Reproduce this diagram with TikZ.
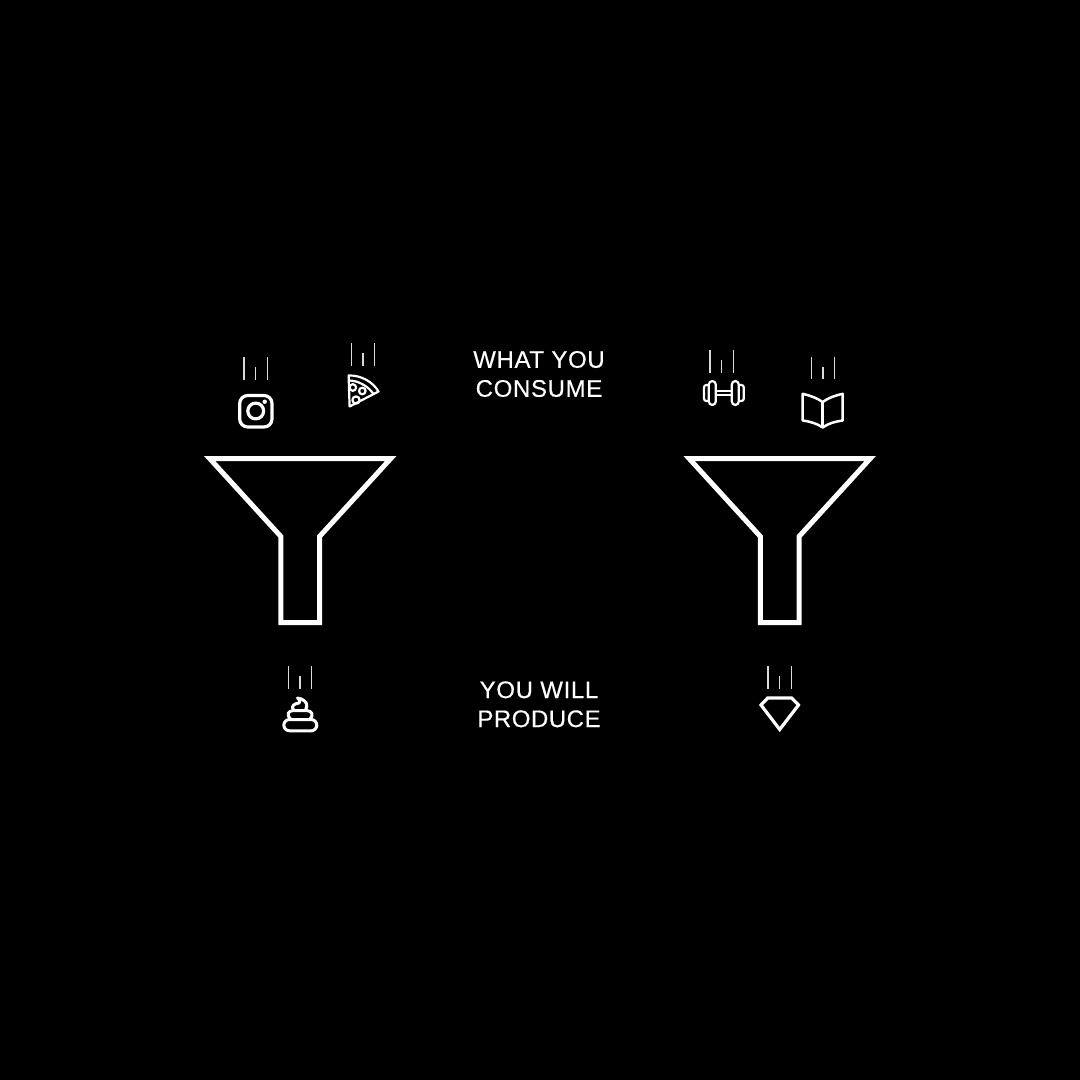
\documentclass[tikz,border=0pt]{standalone}
\usepackage{fontspec}
\setmainfont[LetterSpace=2.7,FakeBold=0.35]{Liberation Sans}
\begin{document}
\begin{tikzpicture}[x=1pt,y=-1pt,
  funnelline/.style={draw=white,line width=5pt,miter limit=10},
  iconline/.style={draw=white,line width=3pt,line join=round},
  thinicon/.style={draw=white,line width=2.2pt,line join=round},
  streak/.style={draw=white!85!black,line width=1.4pt},
  caption/.style={text=white,align=center,inner sep=0pt,font=\fontsize{24}{29}\selectfont}]
\fill[black] (0,0) rectangle (1080,1080);
\useasboundingbox (0,0) rectangle (1080,1080);
% funnels
\foreach \cx in {300.2,779.7}{
  \draw[funnelline] (\cx-90.4,458.7) -- (\cx+90.4,458.7) -- (\cx+19.3,536.5) -- (\cx+19.3,622.5) -- (\cx-19.3,622.5) -- (\cx-19.3,536.5) -- cycle;
}
% streaks
\foreach \x/\y in {255.6/357,363/343,721.6/350,823/356.7,300/666,779.6/666}{
  \draw[streak] (\x-11.7,\y) -- (\x-11.7,\y+22.7);
  \draw[streak] (\x,\y+10) -- (\x,\y+22.7);
  \draw[streak] (\x+11.7,\y) -- (\x+11.7,\y+22.7);
}
% instagram
\draw[iconline,line width=3.2pt,rounded corners=8pt] (239.7,395.5) rectangle (272,427);
\draw[iconline,line width=3.2pt] (255.7,411) circle (7.9);
\fill[white] (264.7,401.7) circle (2.2);
% pizza
\draw[thinicon] (349.6,406.5) -- (348.6,375.5) .. controls (361,375) and (373,382) .. (378.5,391.5) -- cycle;
\draw[thinicon] (349,380.5) .. controls (358,380.5) and (368,386) .. (373.5,394);
\draw[thinicon] (352.8,387.5) circle (3.3);
\draw[thinicon] (362.3,391) circle (3.3);
\draw[thinicon] (356,400) circle (3.6);
% dumbbell
\draw[thinicon,rounded corners=2.4pt] (709,385) -- (704,385) -- (704,401) -- (709,401);
\draw[thinicon,rounded corners=3.6pt] (708.8,381) rectangle (715.8,405);
\draw[thinicon] (715.8,391.2) -- (731.8,391.2) (715.8,394.6) -- (731.8,394.6);
\draw[thinicon,rounded corners=3.6pt] (731.8,381) rectangle (738.8,405);
\draw[thinicon,rounded corners=2.4pt] (738.6,385) -- (743.8,385) -- (743.8,401) -- (738.6,401);
% book
\draw[thinicon,line width=2.5pt] (822.7,402) .. controls (817,398) and (810,395.5) .. (802.7,393.8) -- (802.7,420.5) .. controls (810,421.5) and (817,423.5) .. (822.7,427.5) .. controls (828,423.5) and (835,421.5) .. (842.7,420.5) -- (842.7,393.8) .. controls (835,395.5) and (828,398) .. (822.7,402) -- cycle;
\draw[thinicon,line width=2.5pt] (822.7,402) -- (822.7,427);
% poop
\draw[iconline,rounded corners=5.7pt] (283.8,719.5) rectangle (316.8,730.8);
\draw[iconline] (290.5,719) .. controls (286,715) and (288,710.5) .. (293.5,710.5) -- (306.5,710.5) .. controls (312,710.5) and (314,715.5) .. (310,719);
\draw[iconline] (293.5,710) .. controls (290.5,706) and (294.5,703.5) .. (299,703) .. controls (300.5,702) and (300,700) .. (297.5,698) .. controls (303,698.5) and (307.5,702.5) .. (306.8,706.5) .. controls (306.6,708) and (306,709) .. (305.5,710);
% diamond
\draw[iconline,line width=3.2pt,line join=miter] (767.7,698) -- (791.7,698) -- (798.5,705) -- (779.7,729.5) -- (761,705) -- cycle;
% captions
\node[caption] (consume) at (539,374) {WHAT YOU\\CONSUME};
\node[caption] (produce) at (539,704.3) {YOU WILL\\\addfontfeature{LetterSpace=2.2}PRODUCE};
\end{tikzpicture}
\end{document}
